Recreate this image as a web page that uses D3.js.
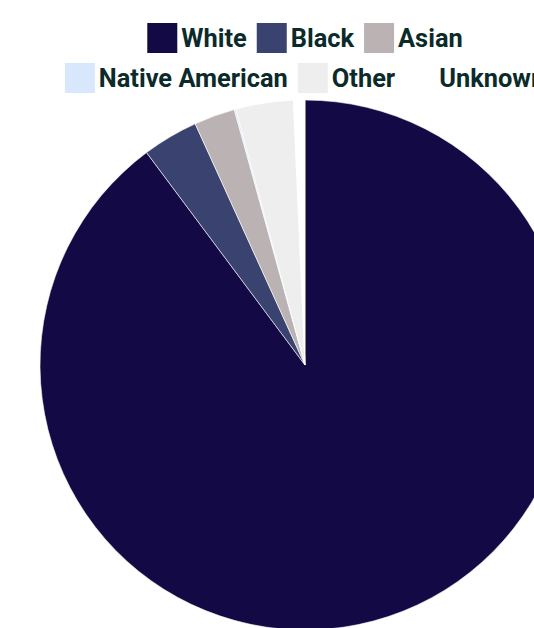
<!DOCTYPE html>
<html>
<head>
<meta charset="utf-8">
<script src="https://cdn.jsdelivr.net/npm/d3@7"></script>
<style>
html,body{margin:0;padding:0;background:#fff;overflow:hidden;}
svg{display:block;}
</style>
</head>
<body>
<svg id="chart" width="534" height="628"></svg>
<script>
// Data
const categories = ["White", "Black", "Asian", "Native American", "Other", "Unknown"];
const values = [89.8, 3.4, 2.5, 0.1, 3.5, 0.7];
const colors = ["#130944", "#3a426f", "#bbb3b3", "#d8e7fb", "#eeeeee", "#ffffff"];
const legendRows = [[0, 1, 2], [3, 4, 5]];

const svg = d3.select("#chart");
const cx = 305, cy = 365, radius = 265;

const pie = d3.pie().sort(null).value(d => d.value);
const arc = d3.arc().innerRadius(0).outerRadius(radius);
const data = categories.map((c, i) => ({ name: c, value: values[i], color: colors[i] }));

svg.append("g")
  .attr("transform", `translate(${cx},${cy})`)
  .selectAll("path")
  .data(pie(data))
  .join("path")
  .attr("d", arc)
  .attr("fill", d => d.data.color)
  .attr("stroke", "#fff")
  .attr("stroke-width", 0.6);

// Legend
const fontSize = 25.4;
const boxW = 30, boxH = 30, gapText = 4, itemPad = 10;
const rowY = [23, 63];
const lg = svg.append("g");
legendRows.forEach((row, ri) => {
  const rg = lg.append("g");
  let x = 0;
  row.forEach(i => {
    const item = rg.append("g").attr("transform", `translate(${x},${rowY[ri]})`);
    item.append("rect").attr("width", boxW).attr("height", boxH).attr("fill", colors[i]);
    const t = item.append("text")
      .attr("x", boxW + gapText)
      .attr("y", boxH / 2)
      .attr("dy", "0.36em")
      .attr("font-family", "Roboto, sans-serif")
      .attr("font-weight", "bold")
      .attr("font-size", fontSize)
      .attr("fill", "#0b2a2a")
      .text(categories[i]);
    x += boxW + gapText + t.node().getComputedTextLength() + itemPad;
  });
  const w = x - itemPad;
  rg.attr("transform", `translate(${cx - w / 2},0)`);
});
</script>
</body>
</html>
